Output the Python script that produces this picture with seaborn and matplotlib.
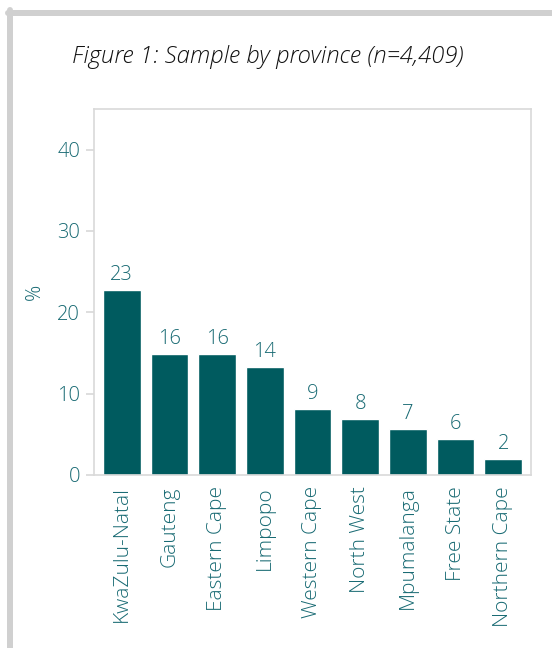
import matplotlib
matplotlib.use("Agg")
import matplotlib.pyplot as plt
import matplotlib.lines as mlines
import seaborn as sns
import pandas as pd

# ------------------------------
# Data
# ------------------------------
provinces = ["KwaZulu-Natal", "Gauteng", "Eastern Cape", "Limpopo", "Western Cape",
             "North West", "Mpumalanga", "Free State", "Northern Cape"]
share = [22.8, 14.9, 14.9, 13.3, 8.1, 6.9, 5.7, 4.4, 2.0]
value_labels = ["23", "16", "16", "14", "9", "8", "7", "6", "2"]
y_ticks = [0, 10, 20, 30, 40]

df = pd.DataFrame({"Province": provinces, "Share": share})

# ------------------------------
# Style
# ------------------------------
sns.set_theme(style="white")
plt.rcParams["font.family"] = ["Open Sans", "DejaVu Sans"]
plt.rcParams["font.weight"] = "light"

TEAL_TXT = "#186a73"
BAR = "#005b5f"
GRID = "#d9d9d9"

fig = plt.figure(figsize=(5.52, 6.48), dpi=100)
ax = fig.add_axes([94 / 552, 1 - 475 / 648, 437 / 552, 366 / 648])

sns.barplot(data=df, x="Province", y="Share", color=BAR, saturation=1,
            width=0.79, ax=ax)

for i, lab in enumerate(value_labels):
    ax.text(i, share[i] + 0.6, lab, ha="center", va="bottom",
            fontsize=14.5, color=TEAL_TXT, fontweight="light")

ax.set_xlim(-0.58, 8.58)
ax.set_ylim(0, 45)
ax.set_yticks(y_ticks)
ax.set_xlabel("")
ax.set_ylabel("%", fontsize=14.5, color=TEAL_TXT, labelpad=9, fontweight="light")
ax.tick_params(axis="y", length=6, color=GRID, labelsize=14.5, labelcolor=TEAL_TXT, pad=4, left=True)
ax.tick_params(axis="x", length=0, labelsize=15, labelcolor=TEAL_TXT, pad=8)
plt.setp(ax.get_xticklabels(), rotation=90, fontweight="light")
plt.setp(ax.get_yticklabels(), fontweight="light")

for sp in ax.spines.values():
    sp.set_color(GRID)
    sp.set_linewidth(1.2)

fig.text(268 / 552, 1 - 57 / 648, "Figure 1: Sample by province (n=4,409)",
         ha="center", va="center", fontsize=17.2, style="italic", color="#111111",
         fontweight="light")

# light grey frame around the figure (left and top edges)
fig.add_artist(mlines.Line2D([10 / 552, 10 / 552], [0, 1 - 10 / 648],
                             transform=fig.transFigure, color="#d0d0d0", lw=4.3))
fig.add_artist(mlines.Line2D([8 / 552, 1], [1 - 12.5 / 648, 1 - 12.5 / 648],
                             transform=fig.transFigure, color="#d0d0d0", lw=4.3))

fig.savefig("out.png", dpi=100)
